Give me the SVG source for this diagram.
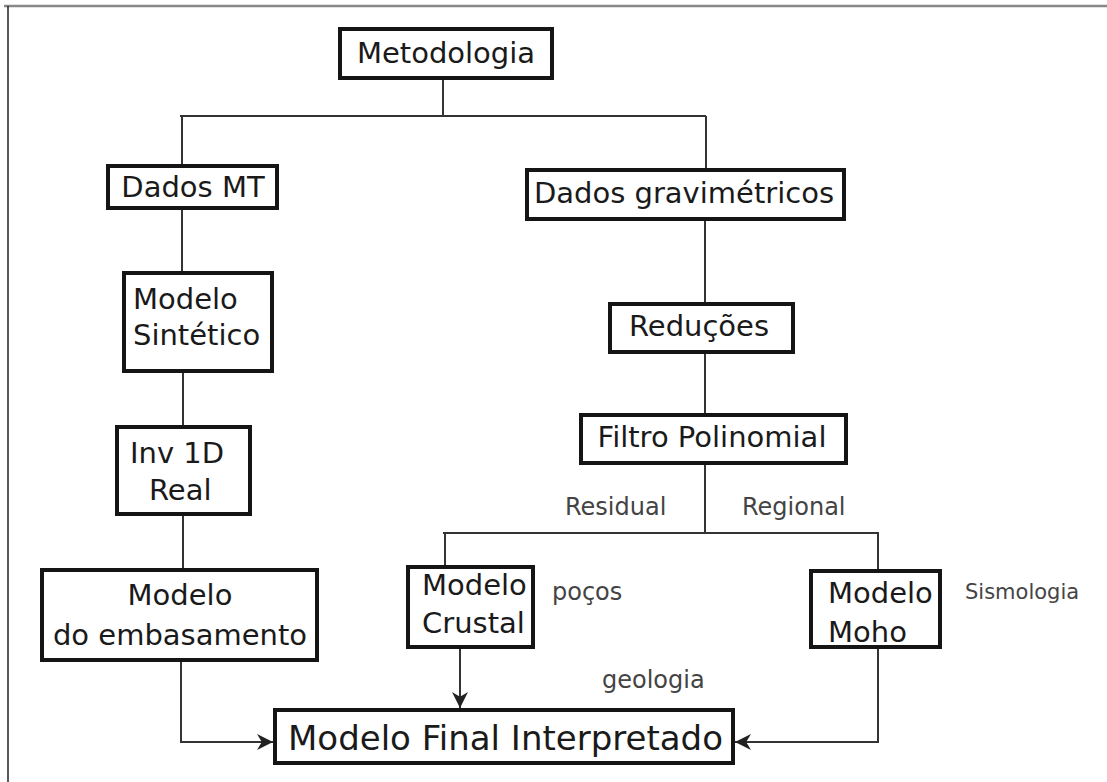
<svg xmlns="http://www.w3.org/2000/svg" width="1107" height="782" viewBox="0 0 1107 782">
<style>
.box{fill:#fff;stroke:#151515;stroke-width:4}
.t{font-family:"DejaVu Sans",sans-serif;font-size:29px;fill:#1a1a1a}
.lbl{font-family:"DejaVu Sans",sans-serif;font-size:24px;fill:#444}
.ln{fill:none;stroke:#333;stroke-width:2}
</style>
<defs>
<marker id="ah" viewBox="0 0 10 10" refX="10" refY="5" markerWidth="7" markerHeight="7" markerUnits="userSpaceOnUse" orient="auto">
<path d="M0,0 L10,5 L0,10 L3,5 z" fill="#222"/>
</marker>
<marker id="ah2" viewBox="0 0 10 10" refX="10" refY="5" markerWidth="20" markerHeight="16" markerUnits="userSpaceOnUse" orient="auto">
<path d="M0,0 L10,5 L0,10 L3,5 z" fill="#222"/>
</marker>
</defs>
<rect width="1107" height="782" fill="#fff"/>
<g id="frame">
<line x1="4" y1="6" x2="1107" y2="6" stroke="#888" stroke-width="2.5"/>
<line x1="8" y1="6" x2="8" y2="782" stroke="#222" stroke-width="1.5"/>
</g>
<g id="connectors">
<path class="ln" d="M443,79 V116 M180,116 H706 M182,116 V166 M706,116 V170"/>
<path class="ln" d="M182,208 V273 M183,371 V427 M183,514 V570"/>
<path class="ln" d="M705,219 V304 M705,352 V415 M705,463 V533 M443,533 H879 M445,533 V567 M878,533 V571"/>
<path class="ln" d="M460,647 V708" marker-end="url(#ah2)"/>
<path class="ln" d="M181,660 V742 H273" marker-end="url(#ah2)"/>
<path class="ln" d="M878,647 V742 H735" marker-end="url(#ah2)"/>
</g>
<g id="metodologia">
<rect class="box" x="340" y="29" width="212" height="49"/>
<text class="t" x="446" y="63" text-anchor="middle">Metodologia</text>
</g>
<g id="dados-mt">
<rect class="box" x="108" y="166" width="169" height="42"/>
<text class="t" x="193" y="197" text-anchor="middle">Dados MT</text>
</g>
<g id="modelo-sintetico">
<rect class="box" x="124" y="273" width="148" height="98"/>
<text class="t" x="133" y="309">Modelo</text>
<text class="t" x="133" y="345">Sintético</text>
</g>
<g id="inv-1d-real">
<rect class="box" x="117" y="427" width="133" height="87"/>
<text class="t" x="130" y="463">Inv 1D</text>
<text class="t" x="149" y="500">Real</text>
</g>
<g id="modelo-embasamento">
<rect class="box" x="42" y="570" width="275" height="90"/>
<text class="t" x="180" y="605" text-anchor="middle">Modelo</text>
<text class="t" x="180" y="645" text-anchor="middle">do embasamento</text>
</g>
<g id="dados-gravimetricos">
<rect class="box" x="527" y="170" width="317" height="49"/>
<text class="t" x="684" y="203" text-anchor="middle">Dados gravimétricos</text>
</g>
<g id="reducoes">
<rect class="box" x="610" y="304" width="183" height="48"/>
<text class="t" x="699" y="336" text-anchor="middle">Reduções</text>
</g>
<g id="filtro-polinomial">
<rect class="box" x="581" y="415" width="265" height="48"/>
<text class="t" x="712" y="447" text-anchor="middle">Filtro Polinomial</text>
</g>
<g id="labels">
<text class="lbl" x="565" y="515">Residual</text>
<text class="lbl" x="742" y="515">Regional</text>
<text class="lbl" x="552" y="600" font-size="23">poços</text>
<text class="lbl" x="965" y="599" style="font-size:21px">Sismologia</text>
<text class="lbl" x="602" y="688">geologia</text>
</g>
<g id="modelo-crustal">
<rect class="box" x="408" y="567" width="125" height="80"/>
<text class="t" x="422" y="595">Modelo</text>
<text class="t" x="422" y="633">Crustal</text>
</g>
<g id="modelo-moho">
<rect class="box" x="811" y="571" width="129" height="76"/>
<text class="t" x="828" y="603">Modelo</text>
<text class="t" x="828" y="642">Moho</text>
</g>
<g id="modelo-final">
<rect class="box" x="275" y="710" width="458" height="53"/>
<text class="t" x="288" y="750" style="font-size:34px">Modelo Final Interpretado</text>
</g>
</svg>
